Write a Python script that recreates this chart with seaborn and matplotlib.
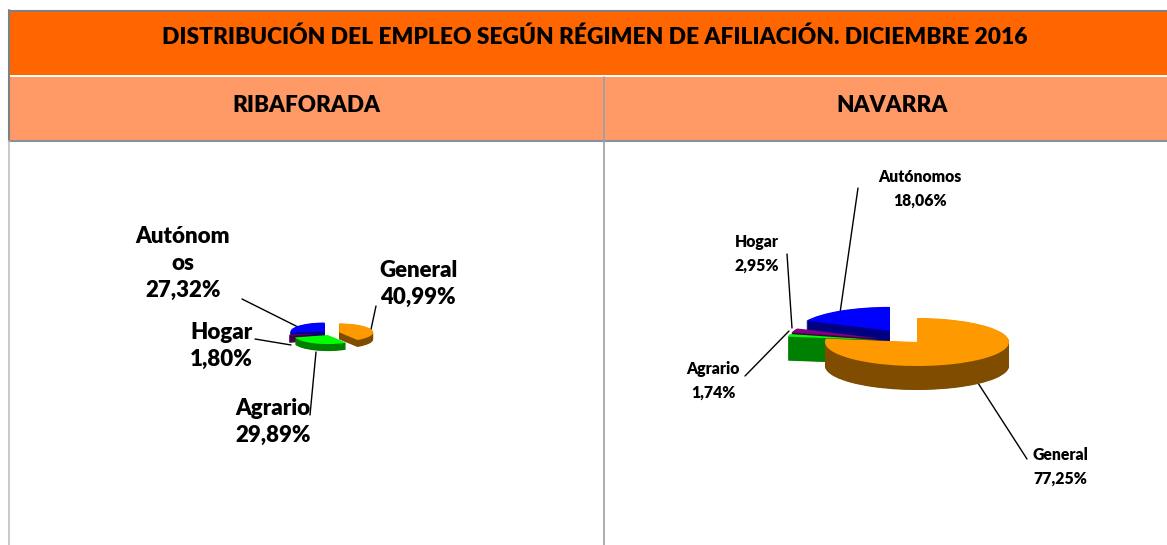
import numpy as np
import matplotlib
matplotlib.use('Agg')
import matplotlib.pyplot as plt
from matplotlib.patches import Rectangle
import seaborn as sns

# values
categories = ["General", "Agrario", "Hogar", "Autónomos"]
ribaforada_values = [40.99, 29.89, 1.80, 27.32]
navarra_values = [77.25, 1.74, 2.95, 18.06]

title = "DISTRIBUCIÓN DEL EMPLEO SEGÚN RÉGIMEN DE AFILIACIÓN. DICIEMBRE 2016"
left_name = "RIBAFORADA"
right_name = "NAVARRA"

# colours
ribaforada_colors = ["#FF9900", "#00FF00", "#800080", "#0000FF"]
navarra_colors = ["#FF9900", "#00FF00", "#800080", "#0000FF"]
side_scale = 0.5

W, H = 1167, 545

sns.set_theme(style="white")
plt.rcParams['font.family'] = ['Lato', 'DejaVu Sans']

fig = plt.figure(figsize=(W / 100, H / 100), dpi=100)
bg = fig.add_axes([0, 0, 1, 1])
bg.set_xlim(0, W)
bg.set_ylim(H, 0)
bg.axis('off')

# table cells
bg.add_patch(Rectangle((9, 12), W - 9, 63, color="#FF6600", lw=0))
bg.add_patch(Rectangle((9, 77), W - 9, 63, color="#FF9966", lw=0))
bg.plot([9, W], [11, 11], color="#808080", lw=1.5)
bg.plot([9, W], [141, 141], color="#8A8F99", lw=1.5)
bg.plot([9, 9], [10, 141], color="#808080", lw=1.5)
bg.plot([9, 9], [141, H], color="#BFBFBF", lw=1.2)
bg.plot([604, 604], [77, H], color="#9A9FA8", lw=1.2)

bg.text(595, 37, title, ha='center', va='center', fontsize=16.4, fontweight='heavy', color='black')
bg.text(306, 105, left_name, ha='center', va='center', fontsize=16.2, fontweight='heavy', color='black')
bg.text(892, 105, right_name, ha='center', va='center', fontsize=16.2, fontweight='heavy', color='black')


def fmt(v):
    return f"{v:.2f}%".replace('.', ',')


def draw_pie(cx, cy, rx, ry, depth, values, explode, colors):
    box_l, box_t = cx - 2 * rx, cy - 2 * ry
    box_w, box_h = 4 * rx, 4 * ry + depth
    ax = fig.add_axes([box_l / W, 1 - (box_t + box_h) / H, box_w / W, box_h / H], zorder=1)
    sides = [tuple(side_scale * c for c in matplotlib.colors.to_rgb(col)) for col in colors]
    for d in np.arange(depth, 0, -0.5):
        ax.pie(values, explode=explode, colors=sides, startangle=90, counterclock=False,
               center=(0, -d / ry), wedgeprops={'linewidth': 0})
    ax.pie(values, explode=explode, colors=colors, startangle=90, counterclock=False,
           center=(0, 0), wedgeprops={'linewidth': 0})
    ax.set_aspect('auto')
    ax.set_xlim(-2, 2)
    ax.set_ylim(-2 - depth / ry, 2)
    ax.patch.set_alpha(0)


draw_pie(331, 333, 34, 9, 7, ribaforada_values, [0.25, 0.25, 0.25, 0.25], ribaforada_colors)
draw_pie(917, 342, 92, 24, 24, navarra_values, [0, 0.42, 0.42, 0.55], navarra_colors)

# data labels and leader lines, in pixels
left_text = [(418, 284), (273, 422), (221, 346), (183, 263)]
left_lines = [((376, 306), (370, 334)), ((310, 415), (316, 352)), ((255, 339), (291, 345)), ((242, 299), (300, 328))]
right_text = [(1060, 466), (713, 380), (757, 253), (920, 188)]
right_lines = [((1027, 459), (978, 383)), ((745, 376), (789, 331)), ((787, 254), (792, 328)), ((858, 188), (840, 313))]

for name, val, pos, seg in zip(categories, ribaforada_values, left_text, left_lines):
    shown = "Autónom\nos" if name == "Autónomos" else name
    bg.text(pos[0], pos[1], f"{shown}\n{fmt(val)}", ha='center', va='center', fontsize=16,
            fontweight='heavy', color='black', linespacing=1.35)
    bg.plot([seg[0][0], seg[1][0]], [seg[0][1], seg[1][1]], color='black', lw=1)

for name, val, pos, seg in zip(categories, navarra_values, right_text, right_lines):
    bg.text(pos[0], pos[1] + 1, f"{name}\n{fmt(val)}", ha='center', va='center', fontsize=11.3,
            fontweight='heavy', color='black', linespacing=1.6)
    bg.plot([seg[0][0], seg[1][0]], [seg[0][1], seg[1][1]], color='black', lw=1)

bg.set_xlim(0, W)
bg.set_ylim(H, 0)
plt.savefig("out.png", dpi=100)
plt.close()
